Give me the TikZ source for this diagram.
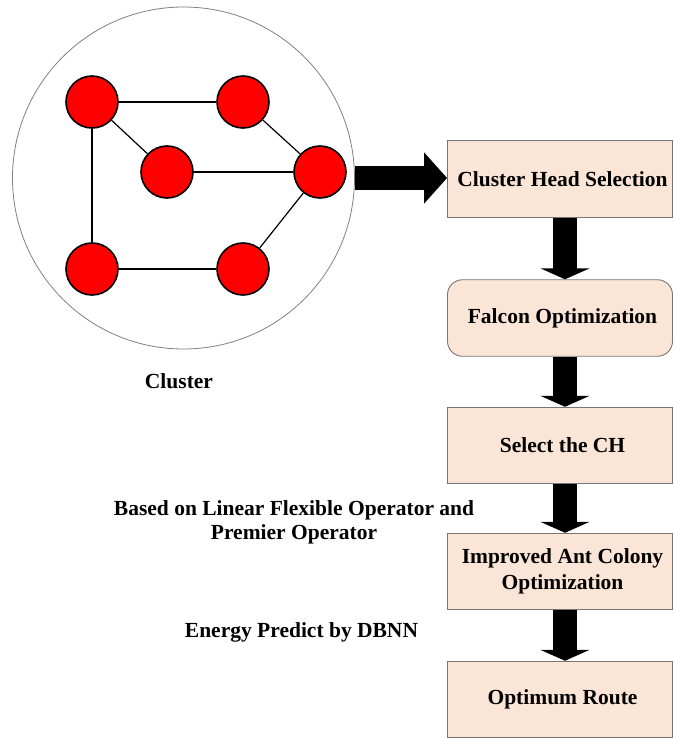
\documentclass[tikz,border=0pt]{standalone}
\usepackage{fontspec}
\setmainfont{Liberation Serif}
\usetikzlibrary{arrows.meta}
\definecolor{peach}{HTML}{FBE5D6}
\definecolor{boxline}{HTML}{767676}
\begin{document}
\begin{tikzpicture}[x=1pt,y=-1pt,
  vert/.style={circle, fill=red, draw=black, line width=1.6pt, minimum size=52pt, inner sep=0pt},
  edge/.style={draw=black, line width=1.2pt},
  stepbox/.style={rectangle, fill=peach, draw=boxline, line width=0.9pt, minimum width=225pt, minimum height=76.5pt, inner sep=0pt, align=center, font=\bfseries\fontsize{21.5}{26}\selectfont},
  lbl/.style={font=\bfseries\fontsize{21.5}{25}\selectfont, align=center, inner sep=0pt},
  fat/.style={line width=24pt, -{Triangle[width=49pt,length=11pt]}}
]
\useasboundingbox (0,0) rectangle (673,738);
% cluster
\node[circle, draw=gray, line width=0.8pt, minimum size=342pt, inner sep=0pt] (cl) at (183.5,178) {};
\node[vert] (n1) at (92,102) {};
\node[vert] (n2) at (243,102) {};
\node[vert] (n3) at (167,172) {};
\node[vert] (n4) at (320,172) {};
\node[vert] (n5) at (92,269) {};
\node[vert] (n6) at (243,269) {};
\draw[edge] (n1) -- (n2);
\draw[edge] (n1) -- (n3);
\draw[edge] (n1) -- (n5);
\draw[edge] (n2) -- (n4);
\draw[edge] (n3) -- (n4);
\draw[edge] (n4) -- (n6);
\draw[edge] (n5) -- (n6);
\node[lbl] (clab) at (179,381) {Cluster};
% boxes
\node[stepbox] (b1) at (560,179) {\hspace*{5pt}Cluster Head Selection};
\node[stepbox, rounded corners=15pt] (b2) at (560,318) {\hspace*{5pt}Falcon Optimization};
\node[stepbox] (b3) at (560,445.5) {\hspace*{5pt}Select the CH};
\node[stepbox] (b4) at (560,571.5) {\hspace*{5pt}Improved Ant Colony\\\hspace*{5pt}Optimization};
\node[stepbox] (b5) at (560,699.5) {\hspace*{5pt}Optimum Route};
% arrows
\draw[line width=24pt, -{Triangle[width=50pt,length=23pt]}] (cl.east) -- (cl.east -| b1.west);
\draw[fat] ([xshift=5pt]b1.south) -- ([xshift=5pt]b2.north);
\draw[fat] ([xshift=5pt]b2.south) -- ([xshift=5pt]b3.north);
\draw[fat] ([xshift=5pt]b3.south) -- ([xshift=5pt]b4.north);
\draw[fat] ([xshift=5pt]b4.south) -- ([xshift=5pt]b5.north);
% side labels
\node[lbl, font=\bfseries\fontsize{21.5}{24.5}\selectfont, anchor=north] (based) at (294,500) {Based on Linear Flexible Operator and\\Premier Operator};
\node[lbl, anchor=base] (energy) at (301.5,637) {Energy Predict by DBNN};
\end{tikzpicture}
\end{document}
